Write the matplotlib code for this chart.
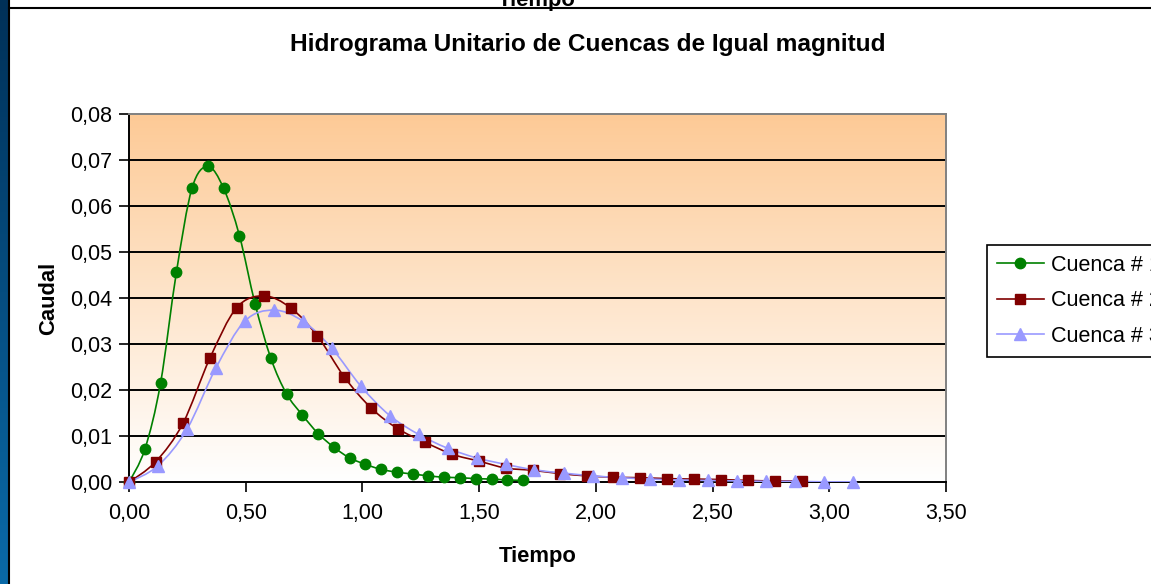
import numpy as np
import matplotlib.pyplot as plt
from matplotlib.path import Path
from matplotlib.patches import PathPatch
from matplotlib.lines import Line2D
from matplotlib.colors import LinearSegmentedColormap

plt.rcParams['font.family'] = ['Liberation Sans', 'DejaVu Sans']

# Cuenca # 1
t1 = [0.000, 0.068, 0.135, 0.203, 0.270, 0.338, 0.405, 0.473, 0.540, 0.608, 0.675, 0.743, 0.810,
      0.878, 0.945, 1.013, 1.080, 1.148, 1.215, 1.283, 1.350, 1.418, 1.485, 1.553, 1.620, 1.688]
q1 = [0.0000, 0.0072, 0.0215, 0.0456, 0.0639, 0.0686, 0.0639, 0.0536, 0.0388, 0.0269, 0.0192, 0.0146, 0.0106,
      0.0076, 0.0053, 0.0039, 0.0028, 0.0022, 0.0018, 0.0014, 0.0011, 0.0010, 0.0008, 0.0007, 0.0005, 0.0004]

# Cuenca # 2
t2 = [0.000, 0.115, 0.231, 0.346, 0.461, 0.577, 0.692, 0.807, 0.922, 1.038, 1.153, 1.268, 1.384,
      1.499, 1.614, 1.730, 1.845, 1.960, 2.075, 2.191, 2.306, 2.421, 2.537, 2.652, 2.767, 2.883]
q2 = [0.0000, 0.0045, 0.0128, 0.0269, 0.0379, 0.0405, 0.0379, 0.0318, 0.0229, 0.0161, 0.0116, 0.0087, 0.0061,
      0.0046, 0.0031, 0.0026, 0.0019, 0.0014, 0.0011, 0.0010, 0.0008, 0.0007, 0.0006, 0.0004, 0.0003, 0.0003]

# Cuenca # 3
t3 = [0.000, 0.124, 0.248, 0.372, 0.496, 0.621, 0.745, 0.869, 0.993, 1.117, 1.241, 1.365, 1.489,
      1.613, 1.737, 1.862, 1.986, 2.110, 2.234, 2.358, 2.482, 2.606, 2.730, 2.854, 2.978, 3.103]
q3 = [0.0000, 0.0036, 0.0115, 0.0248, 0.0350, 0.0374, 0.0350, 0.0291, 0.0209, 0.0145, 0.0104, 0.0074, 0.0053,
      0.0039, 0.0027, 0.0020, 0.0014, 0.0010, 0.0007, 0.0005, 0.0004, 0.0003, 0.0002, 0.0002, 0.0001, 0.0001]

series = [
    ('Cuenca # 1', t1, q1, '#008000', 'o', 7.5),
    ('Cuenca # 2', t2, q2, '#800000', 's', 7.3),
    ('Cuenca # 3', t3, q3, '#9999FF', '^', 9.0),
]

x_ticks = [0, 0.5, 1.0, 1.5, 2.0, 2.5, 3.0, 3.5]
y_ticks = [0, 0.01, 0.02, 0.03, 0.04, 0.05, 0.06, 0.07, 0.08]


def smooth_path(x, y):
    # curva suavizada tipo Catmull-Rom pasando por cada punto
    p = np.column_stack([x, y])
    verts = [p[0]]
    codes = [Path.MOVETO]
    n = len(p)
    for i in range(n - 1):
        p0 = p[max(i - 1, 0)]
        p1 = p[i]
        p2 = p[i + 1]
        p3 = p[min(i + 2, n - 1)]
        c1 = p1 + (p2 - p0) / 6
        c2 = p2 - (p3 - p1) / 6
        verts += [c1, c2, p2]
        codes += [Path.CURVE4] * 3
    return Path(verts, codes)


def coma(v):
    return ('%.2f' % v).replace('.', ',')


fig = plt.figure(figsize=[11.51, 5.84], dpi=100)
fig.patch.set_facecolor('white')

# franja azul a la izquierda
strip = fig.add_axes([0, 0, 8 / 1151, 1])
grad = np.linspace(0, 1, 256).reshape(-1, 1)
strip.imshow(grad, aspect='auto', extent=[0, 1, 0, 1],
             cmap=LinearSegmentedColormap.from_list('azul', ['#003058', '#0A6AA8']), origin='upper')
strip.axis('off')
fig.add_artist(Line2D([8.5 / 1151, 8.5 / 1151], [0, 1], color='black', lw=1.5))
fig.add_artist(Line2D([8.5 / 1151, 1], [1 - 8 / 584, 1 - 8 / 584], color='black', lw=1.5))
fig.text(537 / 1151, 1 - 6 / 584, 'Tiempo', ha='center', va='baseline', fontsize=15.8, fontweight='bold')

ax = fig.add_axes([129 / 1151, 1 - 482.3 / 584, 817 / 1151, 368.3 / 584])
ax.set_xlim(0, 3.5)
ax.set_ylim(0, 0.08)

fondo = LinearSegmentedColormap.from_list('fondo', ['#FDCA96', '#FFFFFF'])
ax.imshow(np.linspace(0, 1, 256).reshape(-1, 1), aspect='auto', cmap=fondo,
          extent=[0, 3.5, 0, 0.08], origin='upper', zorder=0)

for y in y_ticks[1:-1]:
    ax.axhline(y, color='black', lw=1.4, zorder=1)

for name, t, q, col, mk, ms in series:
    ax.add_patch(PathPatch(smooth_path(t, q), fill=False, edgecolor=col, lw=1.2, zorder=3))
    ax.plot(t, q, linestyle='none', marker=mk, color=col, markersize=ms, zorder=4, clip_on=False)

ax.spines['top'].set_color('#808080')
ax.spines['right'].set_color('#808080')
ax.spines['left'].set_color('black')
ax.spines['bottom'].set_color('black')
for s in ax.spines.values():
    s.set_linewidth(1.4)

ax.set_xticks(x_ticks)
ax.set_yticks(y_ticks)
ax.set_xticklabels([coma(v) for v in x_ticks])
ax.set_yticklabels([coma(v) for v in y_ticks])
ax.tick_params(axis='both', direction='out', length=7, width=1.2, color='black', labelsize=15.5)
ax.tick_params(axis='x', pad=8)
ax.tick_params(axis='y', pad=5)

ax.set_xlabel('Tiempo', fontsize=15.8, fontweight='bold', labelpad=16)
ax.set_ylabel('Caudal', fontsize=15.8, fontweight='bold', labelpad=8)
fig.text(588 / 1151, 1 - 45 / 584, 'Hidrograma Unitario de Cuencas de Igual magnitud',
         ha='center', va='center', fontsize=17.6, fontweight='bold')

handles = [Line2D([], [], color=col, marker=mk, markersize=ms, lw=1.2) for _, _, _, col, mk, ms in series]
leg = fig.legend(handles, [s[0] for s in series], loc='upper left',
                 bbox_to_anchor=(987 / 1151, 1 - 245 / 584), borderaxespad=0, fontsize=15.5,
                 frameon=True, fancybox=False, edgecolor='black', framealpha=1,
                 handlelength=2.2, handletextpad=0.3, labelspacing=0.68, borderpad=0.45)
leg.get_frame().set_linewidth(1.2)

fig.savefig('out.png', dpi=100)
